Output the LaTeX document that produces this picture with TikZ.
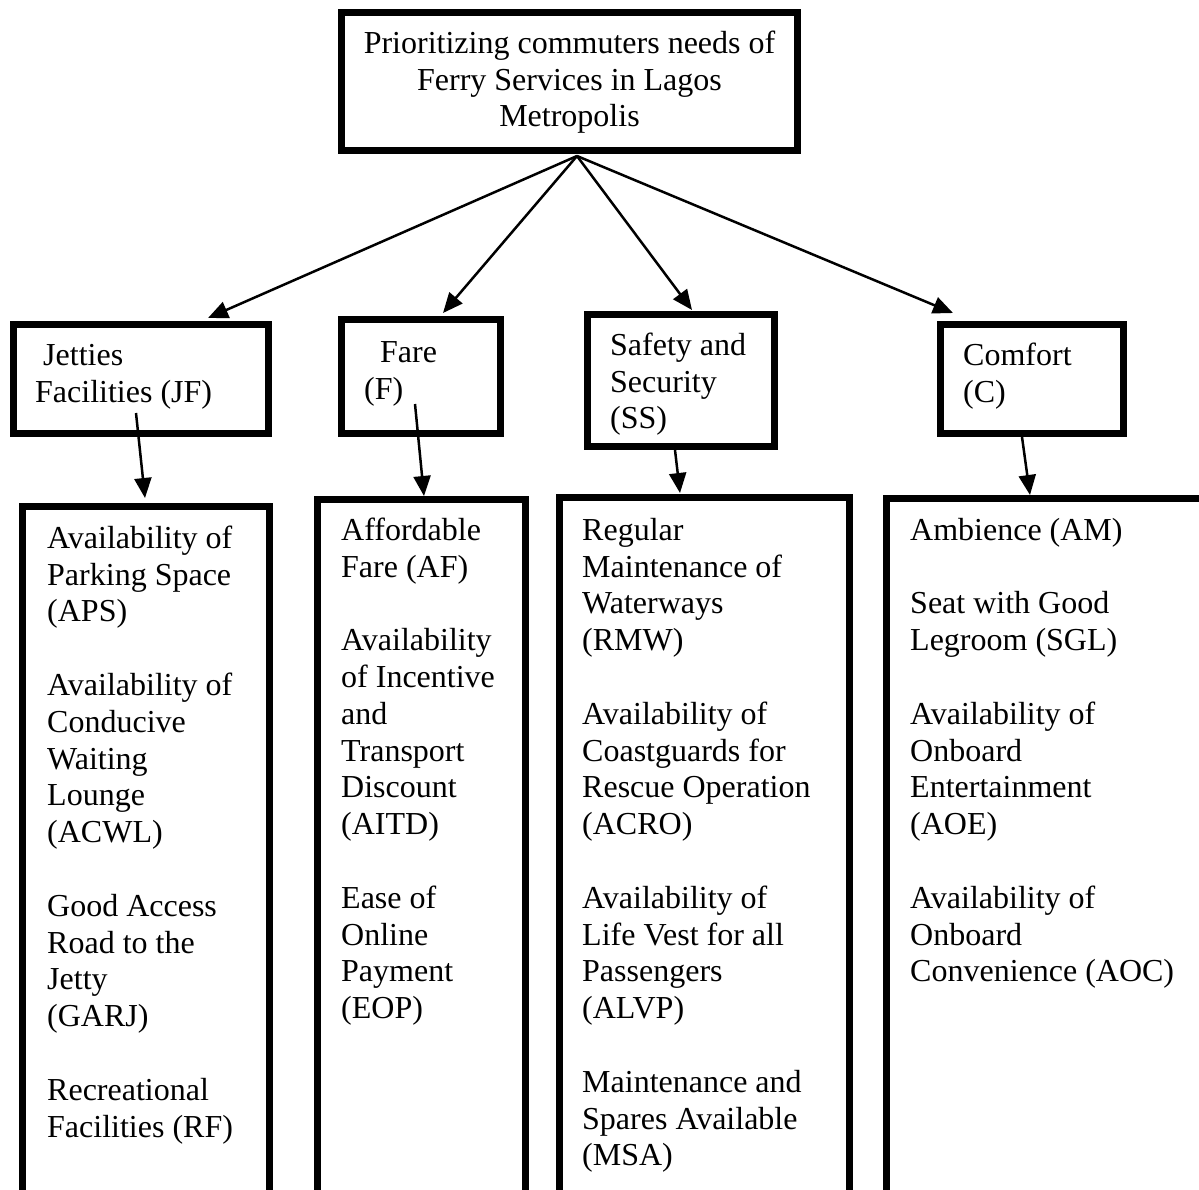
\documentclass[tikz,border=0pt]{standalone}
\usepackage{fontspec}
\setmainfont{Liberation Serif}
\usetikzlibrary{arrows.meta}
\newcommand{\fs}{\fontsize{32pt}{36.8pt}\selectfont}
\newcommand{\ts}{\rule{0pt}{24pt}}
\newcommand{\gap}{\\[36.8pt]}
\begin{document}
\begin{tikzpicture}[x=1pt,y=-1pt,
  frame/.style={draw, line width=7pt, line join=miter},
  boxnode/.style={frame, rectangle, inner sep=0pt},
  txt/.style={anchor=north west, inner sep=0pt, align=left, font=\fs},
  conn/.style={line width=2.5pt, -{Triangle[length=20pt,width=17pt]}}]
\useasboundingbox (0,0) rectangle (1199,1189);
\clip (0,0) rectangle (1199,1189);
\fill[white] (0,0) rectangle (1199,1189);

% top box
\node[boxnode, minimum width=456pt, minimum height=138pt] (top) at (569.5,81.5) {};
\node[anchor=north, inner sep=0pt, align=center, font=\fs] (toptxt) at (569.5,29)
  {\ts Prioritizing commuters needs of\\Ferry Services in Lagos\\Metropolis};

% category boxes
\node[boxnode, minimum width=255pt, minimum height=109pt] (jf) at (141,379) {};
\node[txt] (jft) at (35,341) {\ts\hspace*{8pt}Jetties\\Facilities (JF)};

\node[boxnode, minimum width=159pt, minimum height=114pt] (fare) at (421,376.5) {};
\node[txt] (faret) at (364,338) {\ts\hspace*{16pt}Fare\\(F)};

\node[boxnode, minimum width=187pt, minimum height=132pt] (ss) at (681,380.5) {};
\node[txt] (sst) at (610,331) {\ts Safety and\\Security\\(SS)};

\node[boxnode, minimum width=183pt, minimum height=109pt] (com) at (1032,379) {};
\node[txt] (comt) at (963,341) {\ts Comfort\\(C)};

% sub-criteria frames (open at the bottom, running off the page)
\draw[frame] (22.5,1200) -- (22.5,506.5) -- (269.5,506.5) -- (269.5,1200);
\draw[frame] (317.5,1200) -- (317.5,499.5) -- (525.5,499.5) -- (525.5,1200);
\draw[frame] (559.5,1200) -- (559.5,497.5) -- (849.5,497.5) -- (849.5,1200);
\draw[frame] (886.5,1200) -- (886.5,498.5) -- (1210,498.5);

\node[txt] (jfl) at (47,524) {\ts Availability of\\Parking Space\\(APS)\gap
Availability of\\Conducive\\Waiting\\Lounge\\(ACWL)\gap
Good Access\\Road to the\\Jetty\\(GARJ)\gap
Recreational\\Facilities (RF)};

\node[txt] (farel) at (341,516) {\ts Affordable\\Fare (AF)\gap
Availability\\of Incentive\\and\\Transport\\Discount\\(AITD)\gap
Ease of\\Online\\Payment\\(EOP)};

\node[txt] (ssl) at (582,516) {\ts Regular\\Maintenance of\\Waterways\\(RMW)\gap
Availability of\\Coastguards for\\Rescue Operation\\(ACRO)\gap
Availability of\\Life Vest for all\\Passengers\\(ALVP)\gap
Maintenance and\\Spares Available\\(MSA)};

\node[txt] (coml) at (910,516) {\ts Ambience (AM)\gap
Seat with Good\\Legroom (SGL)\gap
Availability of\\Onboard\\Entertainment\\(AOE)\gap
Availability of\\Onboard\\Convenience (AOC)};

% connectors
\coordinate (apex) at (577,156);
\coordinate (jfin) at (208,318);
\coordinate (farein) at (443,313);
\coordinate (ssin) at (692,310);
\coordinate (comin) at (953,313);
\draw[conn] (apex) -- (jfin);
\draw[conn] (apex) -- (farein);
\draw[conn] (apex) -- (ssin);
\draw[conn] (apex) -- (comin);

\coordinate (jfout) at (136,413);   \coordinate (jflin) at (145,498);
\coordinate (fareout) at (415,404); \coordinate (farelin) at (424,496);
\coordinate (ssout) at (675,450);   \coordinate (sslin) at (680,493);
\coordinate (comout) at (1022,437); \coordinate (comlin) at (1030,495);
\draw[conn] (jfout) -- (jflin);
\draw[conn] (fareout) -- (farelin);
\draw[conn] (ssout) -- (sslin);
\draw[conn] (comout) -- (comlin);
\end{tikzpicture}
\end{document}
